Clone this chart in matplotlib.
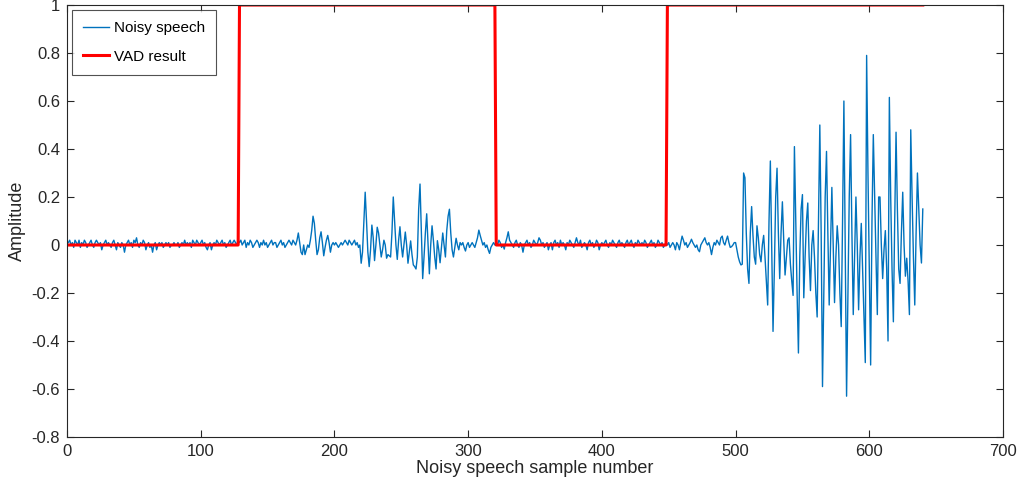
import numpy as np
import matplotlib
matplotlib.use("Agg")
import matplotlib.pyplot as plt

plt.rcParams['font.family'] = ['Liberation Sans', 'DejaVu Sans']

# ---- data ----
seg_quiet1 = [
    0.01, 0.02, 0.00, 0.01, -0.01, 0.02, 0.01, 0.00, 0.02, -0.01,
    0.01, 0.00, 0.02, 0.01, -0.01, 0.00, 0.01, 0.02, 0.00, -0.01,
    0.01, 0.02, 0.01, 0.00, 0.01, -0.02, 0.00, 0.01, 0.02, 0.00,
    0.01, 0.00, -0.01, 0.01, 0.02, 0.00, -0.02, 0.01, 0.00, -0.01,
    0.01, 0.00, -0.03, 0.00, 0.01, 0.02, 0.00, 0.01, -0.01, 0.02,
    0.01, 0.03, 0.00, -0.01, 0.01, 0.00, 0.02, 0.01, -0.02, 0.00,
    0.01, -0.01, 0.00, -0.03, 0.00, 0.01, -0.02, 0.00, 0.01, 0.00,
    0.01, -0.01, 0.00, 0.01, 0.00, 0.01, -0.01, 0.00, 0.00, 0.01,
    0.00, 0.00, 0.01, -0.01, 0.00, 0.01, 0.00, 0.02, 0.00, 0.01,
    0.00, 0.01, -0.01, 0.02, 0.01, 0.00, 0.02, 0.01, 0.00, 0.01,
    0.02, 0.00, 0.01, -0.01, -0.02, 0.00, 0.01, -0.02, 0.00, 0.01,
    0.00, 0.02, 0.01, 0.00, 0.01, 0.02, 0.00, 0.01, -0.01, 0.00,
    0.01, 0.02, 0.00, 0.01, 0.02, 0.01, 0.00, 0.02,
]
seg_quiet2 = [
    0.01, 0.02, 0.00, 0.01, 0.02, -0.01, 0.01, 0.00, 0.02, 0.01, -0.01, 0.00,
    0.01, 0.02, 0.01, -0.01, 0.01, 0.00, 0.02, 0.00, 0.01, -0.01,
    0.00, 0.01, 0.02, 0.00, 0.01, 0.01, -0.01, 0.00, 0.01, 0.02,
    0.00, 0.01, -0.01, 0.00, 0.01, 0.02, 0.01, 0.00, 0.02, 0.01, 0.00, 0.02,
    0.05, 0.01, -0.03, -0.04, 0.00, -0.04, -0.02, 0.00,
    -0.01, 0.02, 0.06, 0.12, 0.09, 0.02, -0.04, -0.02, 0.03, 0.055,
    0.01, -0.045, -0.01, 0.02, 0.04, 0.01, -0.03, 0.00, 0.01, 0.00,
    0.01, 0.00, -0.01, 0.00, 0.01, 0.00, 0.01, 0.02, 0.01, 0.00,
    0.02, 0.01, 0.00, 0.01, 0.02, 0.00, 0.01, -0.01, 0.00,
]
seg_speech1 = [
    -0.076, -0.03, 0.10, 0.22, 0.10, -0.03, -0.09, -0.02, 0.083, 0.03,
    -0.065, 0.00, 0.074, 0.05, 0.00, -0.05, -0.02, 0.02, 0.00, -0.055,
    -0.04, -0.045, -0.05, 0.05, 0.20, 0.10, 0.00, -0.06, 0.02, 0.076,
    0.00, -0.05, 0.00, 0.054, 0.00, -0.076, -0.03, 0.017, -0.04, -0.083,
    -0.09, -0.10, -0.05, 0.15, 0.254, 0.05, -0.14, -0.05, 0.05, 0.13,
    0.00, -0.12, 0.00, 0.08, 0.02, -0.05, -0.10, 0.018, -0.02, -0.074,
    -0.01, 0.05, 0.00, -0.05, 0.06, 0.12, 0.149, 0.05, -0.02, -0.05,
    -0.01, 0.028, 0.00, -0.02, 0.01, 0.00, 0.01, -0.01, -0.025, 0.00,
    0.01, -0.01, 0.00, 0.01, 0.00, -0.01, 0.01, 0.03, 0.062, 0.04,
    0.02, 0.00, 0.01, -0.01, 0.00, -0.02, -0.035, -0.01, 0.00, 0.01,
    0.00,
]
seg_quiet3 = [
    0.01, 0.00, 0.02, 0.01, -0.01, 0.00, -0.017, 0.01, 0.03, 0.055,
    0.02, 0.01, 0.00, -0.01, 0.01, 0.02, 0.00, -0.01, 0.01, 0.00,
    -0.03, 0.00, 0.01, 0.02, 0.00, 0.01, -0.01, 0.00, 0.02, 0.01,
    0.00, 0.01, 0.03, 0.02, 0.00, 0.01, -0.01, 0.00, 0.01, -0.02,
    0.00, 0.01, -0.02, 0.01, 0.02, 0.00, 0.01, -0.01, 0.02, 0.00,
    0.01, 0.00, -0.02, 0.01, 0.00, 0.02, 0.01, 0.00, -0.01, 0.01,
    0.03, 0.01, 0.00, 0.02, -0.01, 0.00, 0.01, 0.00, -0.02, 0.01,
    0.02, 0.00, 0.01, -0.01, 0.00, 0.02, 0.01, -0.02, 0.00, 0.01,
    0.00, 0.01, 0.02, 0.00, -0.01, 0.01, 0.00, 0.02, 0.01, 0.00,
    -0.01, 0.01, 0.02, 0.00, 0.01, 0.00, -0.01, 0.01, 0.02, 0.00,
    0.01, 0.02, 0.00, -0.01, 0.01, 0.00, 0.02, 0.01, 0.00, 0.01,
    0.00, 0.02, 0.01, -0.01, 0.00, 0.01, 0.02, 0.00, 0.01, -0.01,
    0.00, 0.02, 0.01, 0.00, 0.01, -0.01, 0.00, 0.01, 0.00, 0.01,
    -0.01, 0.00, 0.01, 0.00, -0.02, 0.01, 0.00, -0.02, 0.01, 0.037,
    0.02, 0.00, 0.01, -0.01, 0.00, 0.01, 0.024, 0.01, 0.00, -0.01,
    0.00, -0.02, -0.028, 0.00, 0.01, 0.02, 0.03, 0.01, 0.00, 0.01,
    -0.01, -0.04, -0.01, 0.01, 0.00, 0.02, 0.01, 0.00, 0.03, 0.037,
    0.01, 0.00, 0.02, 0.037, 0.01, -0.01, -0.007, 0.00, 0.01, 0.01,
    -0.02, -0.05, -0.07, -0.083, -0.08,
]
seg_speech2 = [
    0.30, 0.28, 0.05, -0.10, -0.16, 0.05, 0.16, 0.04, -0.05, -0.08,
    0.08, 0.03, -0.04, -0.07, 0.00, 0.04, -0.05, -0.15, -0.25, 0.10,
    0.35, 0.00, -0.36, -0.10, 0.20, 0.32, 0.05, -0.14, 0.05, 0.18,
    0.02, -0.125, -0.05, 0.02, 0.03, -0.08, -0.15, -0.21, 0.41, 0.10,
    -0.20, -0.45, -0.05, 0.15, 0.21, -0.22, -0.05, 0.10, 0.175, -0.05,
    -0.19, 0.00, 0.06, -0.05, -0.20, -0.30, 0.10, 0.50, 0.05, -0.59,
    -0.20, 0.20, 0.39, 0.05, -0.25, 0.00, 0.24, 0.00, -0.24, -0.05,
    0.08, 0.00, -0.20, -0.34, 0.10, 0.60, 0.00, -0.63, -0.20, 0.20,
    0.46, 0.05, -0.29, -0.05, 0.20, 0.00, -0.27, -0.05, 0.09, -0.10,
    -0.30, -0.49, 0.79, 0.30, -0.10, -0.50, 0.10, 0.46, 0.20, -0.05,
    -0.29, 0.20, 0.20, 0.00, -0.14, -0.02, 0.06, -0.10, -0.40, 0.615,
    0.20, -0.10, -0.32, 0.10, 0.47, 0.15, -0.10, -0.16, 0.05, 0.22,
    0.00, -0.13, -0.055, -0.15, -0.29, 0.48, 0.20, -0.05, -0.25, 0.05,
    0.30, 0.15, 0.00, -0.075, 0.15,
]
vad_levels = [0, 1, 0, 1]
vad_lengths = [128, 192, 128, 192]

noisy = np.array(seg_quiet1 + seg_quiet2 + seg_speech1 + seg_quiet3 + seg_speech2)
samples = np.arange(1, len(noisy) + 1)
vad = np.repeat(vad_levels, vad_lengths)

xticks = [0, 100, 200, 300, 400, 500, 600, 700]
yticks = [-0.8, -0.6, -0.4, -0.2, 0, 0.2, 0.4, 0.6, 0.8, 1]
ytick_labels = ['-0.8', '-0.6', '-0.4', '-0.2', '0', '0.2', '0.4', '0.6', '0.8', '1']

# ---- figure ----
fig = plt.figure(figsize=(10.26, 4.87), dpi=100)
ax = fig.add_axes([0.0653, 0.1027, 0.9123, 0.887])

ax.plot(samples, noisy, color='#0072BD', lw=1.0, label='Noisy speech')
ax.plot(samples, vad, color='#FF0000', lw=2.2, label='VAD result')

ax.set_xlim(0, 700)
ax.set_ylim(-0.8, 1)
ax.set_xticks(xticks)
ax.set_xticklabels([str(t) for t in xticks])
ax.set_yticks(yticks)
ax.set_yticklabels(ytick_labels)

ax.tick_params(direction='in', length=5, width=0.8, top=True, right=True,
               labelsize=12, colors='#262626', pad=5)
for s in ax.spines.values():
    s.set_color('#262626')
    s.set_linewidth(0.8)

ax.set_xlabel('Noisy speech sample number', fontsize=13, color='#262626', labelpad=1)
ax.set_ylabel('Amplitude', fontsize=13, color='#262626', labelpad=4)

leg = ax.legend(loc='upper left', fontsize=11, frameon=True, fancybox=False,
                edgecolor='#262626', handlelength=1.7, borderaxespad=0.3,
                borderpad=0.75, labelspacing=0.95, handletextpad=0.3)
leg.get_frame().set_linewidth(0.8)

fig.savefig('out.png', dpi=100)
